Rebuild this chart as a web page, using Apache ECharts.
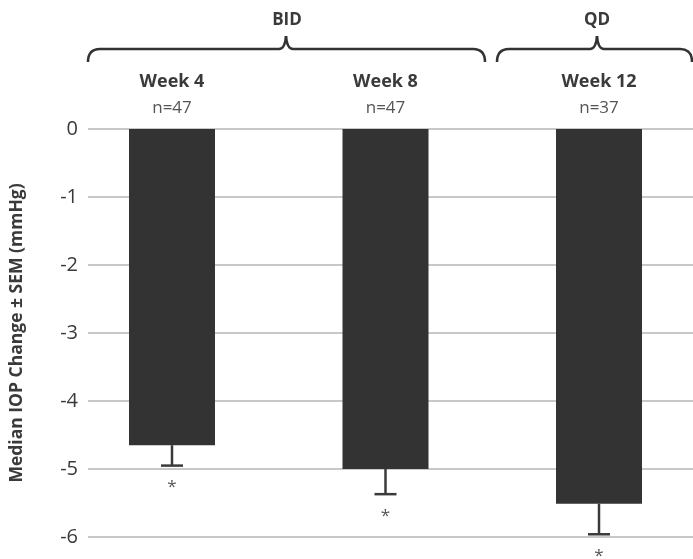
<!DOCTYPE html>
<html>
<head>
<meta charset="utf-8">
<script src="https://cdn.jsdelivr.net/npm/echarts@6/dist/echarts.min.js"></script>
<style>
html,body{margin:0;padding:0;background:#fff;}
#chart{width:693px;height:559px;}
</style>
</head>
<body>
<div id="chart"></div>
<script>
// ---- data ----
const categories = ['Week 4', 'Week 8', 'Week 12'];
const nValues = [47, 47, 37];
const medianChange = [-4.65, -5.0, -5.51];
const semValues = [0.30, 0.37, 0.45];
const sigMarks = ['*', '*', '*'];
const groupLabels = ['BID', 'QD'];
const yTicks = [0, -1, -2, -3, -4, -5, -6];

const FONT = '"Open Sans", sans-serif';
const TXT = '#3a3a3a';

const chart = echarts.init(document.getElementById('chart'), null, {renderer: 'canvas'});

function brace(x1, xm, x2, yTop, yLine, yEnd) {
  const st = {stroke: '#333', lineWidth: 2.5, fill: null};
  const q = function (ax, ay, cx, cy, bx, by) {
    return {type: 'bezierCurve', shape: {x1: ax, y1: ay, cpx1: cx, cpy1: cy, x2: bx, y2: by}, style: st};
  };
  const l = function (ax, ay, bx, by) {
    return {type: 'line', shape: {x1: ax, y1: ay, x2: bx, y2: by}, style: st};
  };
  return {
    type: 'group',
    children: [
      q(x1, yEnd, x1, yLine, x1 + 12, yLine),
      l(x1 + 12, yLine, xm - 7, yLine),
      q(xm - 7, yLine, xm - 1, yLine, xm, yTop),
      q(xm, yTop, xm + 1, yLine, xm + 7, yLine),
      l(xm + 7, yLine, x2 - 12, yLine),
      q(x2 - 12, yLine, x2, yLine, x2, yEnd)
    ]
  };
}

const option = {
  backgroundColor: '#fff',
  animation: false,
  textStyle: {fontFamily: FONT},
  grid: [
    {left: 87, right: 0, top: 129, bottom: 22},
    {left: 172, width: 427, top: 129, bottom: 22}
  ],
  xAxis: [
    {gridIndex: 0, type: 'value', show: false, min: 0, max: 1},
    {
      gridIndex: 1, type: 'category', position: 'top', data: categories, boundaryGap: false,
      axisLine: {show: false}, axisTick: {show: false},
      axisLabel: {
        margin: 8, interval: 0,
        formatter: function (v, i) { return '{a|' + v + '}\n{b|n=' + nValues[i] + '}'; },
        rich: {
          a: {fontFamily: FONT, fontSize: 18, fontWeight: 'bold', color: TXT, lineHeight: 26},
          b: {fontFamily: FONT, fontSize: 17, color: '#555', lineHeight: 26}
        }
      }
    }
  ],
  yAxis: [
    {
      gridIndex: 0, type: 'value', min: yTicks[yTicks.length - 1], max: yTicks[0], interval: 1,
      axisLine: {show: false}, axisTick: {show: false},
      axisLabel: {fontFamily: FONT, fontSize: 20, color: TXT, margin: 10},
      splitLine: {show: true, lineStyle: {color: '#c8c8c8', width: 2}},
      name: 'Median IOP Change \u00b1 SEM (mmHg)',
      nameLocation: 'middle', nameGap: 62, nameRotate: 90,
      nameTextStyle: {fontFamily: FONT, fontSize: 17.5, fontWeight: 'bold', color: TXT}
    },
    {gridIndex: 1, type: 'value', show: false, min: yTicks[yTicks.length - 1], max: yTicks[0]}
  ],
  series: [
    {
      type: 'bar', xAxisIndex: 1, yAxisIndex: 1,
      data: medianChange, barWidth: 86,
      itemStyle: {color: '#333333'}
    },
    {
      type: 'custom', xAxisIndex: 1, yAxisIndex: 1, z: 5,
      data: categories.map(function (c, i) { return [i, medianChange[i], medianChange[i] - semValues[i]]; }),
      renderItem: function (params, api) {
        const i = api.value(0);
        const p1 = api.coord([i, api.value(1)]);
        const p2 = api.coord([i, api.value(2)]);
        const mark = sigMarks[params.dataIndex];
        const st = {stroke: '#3a3a3a', lineWidth: 2.5};
        return {
          type: 'group',
          children: [
            {type: 'line', shape: {x1: p1[0], y1: p1[1], x2: p2[0], y2: p2[1]}, style: st},
            {type: 'line', shape: {x1: p2[0] - 11, y1: p2[1], x2: p2[0] + 11, y2: p2[1]}, style: st},
            {type: 'text', x: p2[0], y: p2[1] + 22,
             style: {text: mark, fill: '#555', font: '17px ' + FONT, align: 'center', verticalAlign: 'middle'}}
          ]
        };
      }
    }
  ],
  graphic: [
    brace(88, 286, 485, 36, 49, 62),
    brace(497, 597, 692, 36, 49, 62),
    {type: 'text', x: 287, y: 20,
     style: {text: groupLabels[0], font: 'bold 17px ' + FONT, fill: TXT, align: 'center', verticalAlign: 'middle'}},
    {type: 'text', x: 597, y: 20,
     style: {text: groupLabels[1], font: 'bold 17px ' + FONT, fill: TXT, align: 'center', verticalAlign: 'middle'}}
  ]
};
chart.setOption(option);
</script>
</body>
</html>
